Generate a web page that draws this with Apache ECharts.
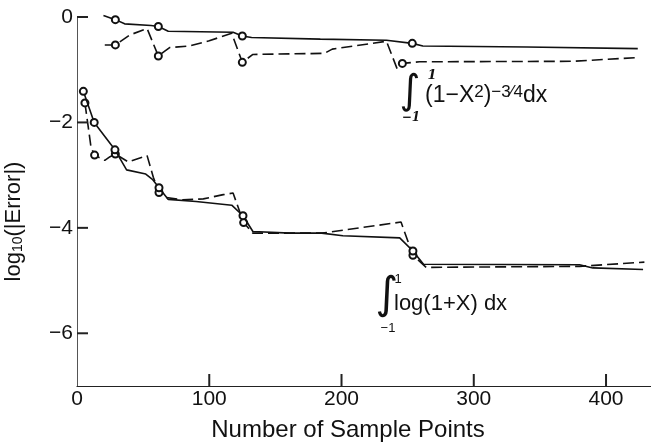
<!DOCTYPE html>
<html>
<head>
<meta charset="utf-8">
<script src="https://cdn.jsdelivr.net/npm/echarts@6/dist/echarts.min.js"></script>
<style>
  html, body { margin: 0; padding: 0; background: #fff; }
  #chart { width: 651px; height: 444px; }
</style>
</head>
<body>
<div id="chart"></div>
<script>
// tick values
const xTicks = [0, 100, 200, 300, 400]
const yTicks = [0, -2, -4, -6]

// ∫(1-x²)^-3/4 dx — solid curve, [samples, log10|error|]
const topSolid = [
  [20, 0.03], [29, -0.05], [36, -0.13], [56, -0.16], [61.5, -0.18], [69, -0.27],
  [118, -0.29], [125, -0.36], [132, -0.39], [184, -0.42], [234, -0.44], [253.5, -0.5],
  [261.5, -0.55], [340, -0.57], [424, -0.6]
]
const topSolidMarks = [1, 4, 7, 11]

// ∫(1-x²)^-3/4 dx — dashed curve
const topDashed = [
  [21, -0.53], [29, -0.53], [40, -0.34], [53, -0.22], [61.5, -0.74], [70, -0.58],
  [85, -0.55], [100, -0.45], [117, -0.31], [125, -0.86], [133, -0.71], [187, -0.69],
  [193, -0.61], [234, -0.46], [242, -0.98], [246, -0.88], [259, -0.85], [375, -0.84],
  [423, -0.77]
]
const topDashedMarks = [1, 4, 9, 15]

// ∫log(1+x) dx — solid curve
const botSolid = [
  [4.8, -1.41], [13, -2.0], [28.7, -2.52], [37.5, -2.9], [52, -2.98], [57, -3.08],
  [62, -3.24], [69, -3.46], [90, -3.5], [117, -3.57], [125.5, -3.77], [133, -4.07],
  [161, -4.1], [185, -4.1], [201, -4.15], [244, -4.19], [254, -4.44], [262, -4.69],
  [380, -4.7], [390, -4.76], [428, -4.79]
]
const botSolidMarks = [0, 1, 2, 6, 10, 16]

// ∫log(1+x) dx — dashed curve
const botDashed = [
  [6, -1.63], [10.6, -2.47], [13.3, -2.62], [21, -2.72], [25, -2.65], [29, -2.6],
  [38.8, -2.75], [53, -2.63], [57.7, -3.04], [62, -3.33], [66.5, -3.42], [80, -3.47],
  [95.5, -3.45], [110.6, -3.37], [118, -3.34], [126, -3.9], [133, -4.1], [185, -4.1],
  [191, -4.08], [245, -3.89], [254, -4.52], [264, -4.75], [380, -4.73], [429, -4.65]
]
const botDashedMarks = [0, 2, 5, 9, 15, 20]

const FONT = 'Liberation Sans'
const INK = '#111'
const X_MIN = 0, X_MAX = 434, Y_MIN = -7, Y_MAX = 0

function withMarks(points, marks) {
  return points.map((p, i) => marks.includes(i)
    ? { value: p, symbol: 'emptyCircle' }
    : { value: p, symbol: 'none' })
}

function curve(name, points, marks, dashed) {
  return {
    name,
    type: 'line',
    data: withMarks(points, marks),
    symbol: 'emptyCircle',
    showSymbol: true,
    showAllSymbol: true,
    symbolSize: 7,
    clip: false,
    animation: false,
    itemStyle: { color: INK, borderWidth: 1.3 },
    lineStyle: { color: INK, width: 1.6, type: dashed ? [11, 5] : 'solid' },
    z: dashed ? 2 : 3,
  }
}

// formula annotations
const annotations = [
  // ∫_{-1}^{1} (1-X²)^{-3/4} dx
  { type: 'text', x: 410, y: 93, style: { text: '\u222B', font: '40px "DejaVu Sans"', fill: INK, align: 'center', verticalAlign: 'middle' } },
  { type: 'text', x: 432, y: 76, style: { text: '1', font: 'italic bold 13px "DejaVu Serif"', fill: INK, align: 'center', verticalAlign: 'middle' } },
  { type: 'text', x: 411, y: 118, style: { text: '\u22121', font: 'italic bold 12px "DejaVu Serif"', fill: INK, align: 'center', verticalAlign: 'middle' } },
  {
    type: 'text', x: 425, y: 84,
    style: {
      text: '{m|(1\u2212X}{s|2}{m|)}{s|\u22123\u20444}{m|dx}',
      align: 'left', verticalAlign: 'top',
      rich: {
        m: { font: '23px "Liberation Sans"', fill: INK, lineHeight: 40, verticalAlign: 'top' },
        s: { font: '17px "Liberation Sans"', fill: INK, lineHeight: 22, verticalAlign: 'top' },
      },
    },
  },
  // ∫_{-1}^{1} log(1+X) dx
  { type: 'text', x: 387, y: 297, style: { text: '\u222B', font: '44px "DejaVu Sans"', fill: INK, align: 'center', verticalAlign: 'middle' } },
  { type: 'text', x: 398, y: 279, style: { text: '1', font: '13px "Liberation Sans"', fill: INK, align: 'center', verticalAlign: 'middle' } },
  { type: 'text', x: 388, y: 328, style: { text: '\u22121', font: '13px "Liberation Sans"', fill: INK, align: 'center', verticalAlign: 'middle' } },
  { type: 'text', x: 394, y: 304, style: { text: 'log(1+X) dx', font: '22px "Liberation Sans"', fill: INK, align: 'left', verticalAlign: 'middle' } },
]

const chart = echarts.init(document.getElementById('chart'), null, { renderer: 'canvas' })

chart.setOption({
  backgroundColor: '#fff',
  animation: false,
  grid: { left: 77, right: 0, top: 17, bottom: 58, outerBoundsMode: 'none', containLabel: false },
  xAxis: {
    type: 'value',
    min: X_MIN,
    max: X_MAX,
    name: 'Number of Sample Points',
    nameLocation: 'middle',
    nameGap: 32,
    nameTextStyle: { fontFamily: FONT, fontSize: 24, color: INK, padding: [0, 32, 0, 0] },
    axisLine: { onZero: false, lineStyle: { color: '#222', width: 1.2 } },
    axisTick: { show: false },
    axisLabel: { customValues: xTicks, margin: 3, fontFamily: FONT, fontSize: 21, color: INK },
    splitLine: { show: false },
  },
  yAxis: {
    type: 'value',
    min: Y_MIN,
    max: Y_MAX,
    name: '{a|log}{b|10}{a|(|Error|)}',
    nameLocation: 'middle',
    nameRotate: 90,
    nameGap: 52,
    nameTextStyle: {
      padding: [0, 40, 0, 0],
      rich: {
        a: { fontFamily: FONT, fontSize: 22, color: INK, lineHeight: 24, verticalAlign: 'bottom' },
        b: { fontFamily: FONT, fontSize: 14, color: INK, lineHeight: 36, verticalAlign: 'bottom' },
      },
    },
    axisLine: { onZero: false, lineStyle: { color: '#555', width: 1 } },
    axisTick: { show: false },
    axisLabel: {
      customValues: yTicks,
      margin: 4,
      fontFamily: FONT,
      fontSize: 21,
      color: INK,
      formatter: v => String(v).replace('-', '\u2212'),
    },
    splitLine: { show: false },
  },
  graphic: annotations,
  series: [
    curve('(1-x²)^-3/4 solid', topSolid, topSolidMarks, false),
    curve('(1-x²)^-3/4 dashed', topDashed, topDashedMarks, true),
    curve('log(1+x) solid', botSolid, botSolidMarks, false),
    curve('log(1+x) dashed', botDashed, botDashedMarks, true),
  ],
})

// inward tick marks, placed with the chart's own scales
const tickMarks = []
for (const v of xTicks.slice(1)) {
  const p = chart.convertToPixel({ gridIndex: 0 }, [v, Y_MIN])
  tickMarks.push({
    type: 'rect', z: 100, silent: true,
    shape: { x: p[0] - 1, y: p[1] - 12, width: 2, height: 12 },
    style: { fill: '#222' },
  })
}
for (const v of yTicks) {
  const p = chart.convertToPixel({ gridIndex: 0 }, [X_MIN, v])
  tickMarks.push({
    type: 'rect', z: 100, silent: true,
    shape: { x: p[0], y: p[1] - 1, width: 11, height: 2 },
    style: { fill: '#222' },
  })
}
chart.setOption({ graphic: annotations.concat(tickMarks) })
</script>
</body>
</html>
